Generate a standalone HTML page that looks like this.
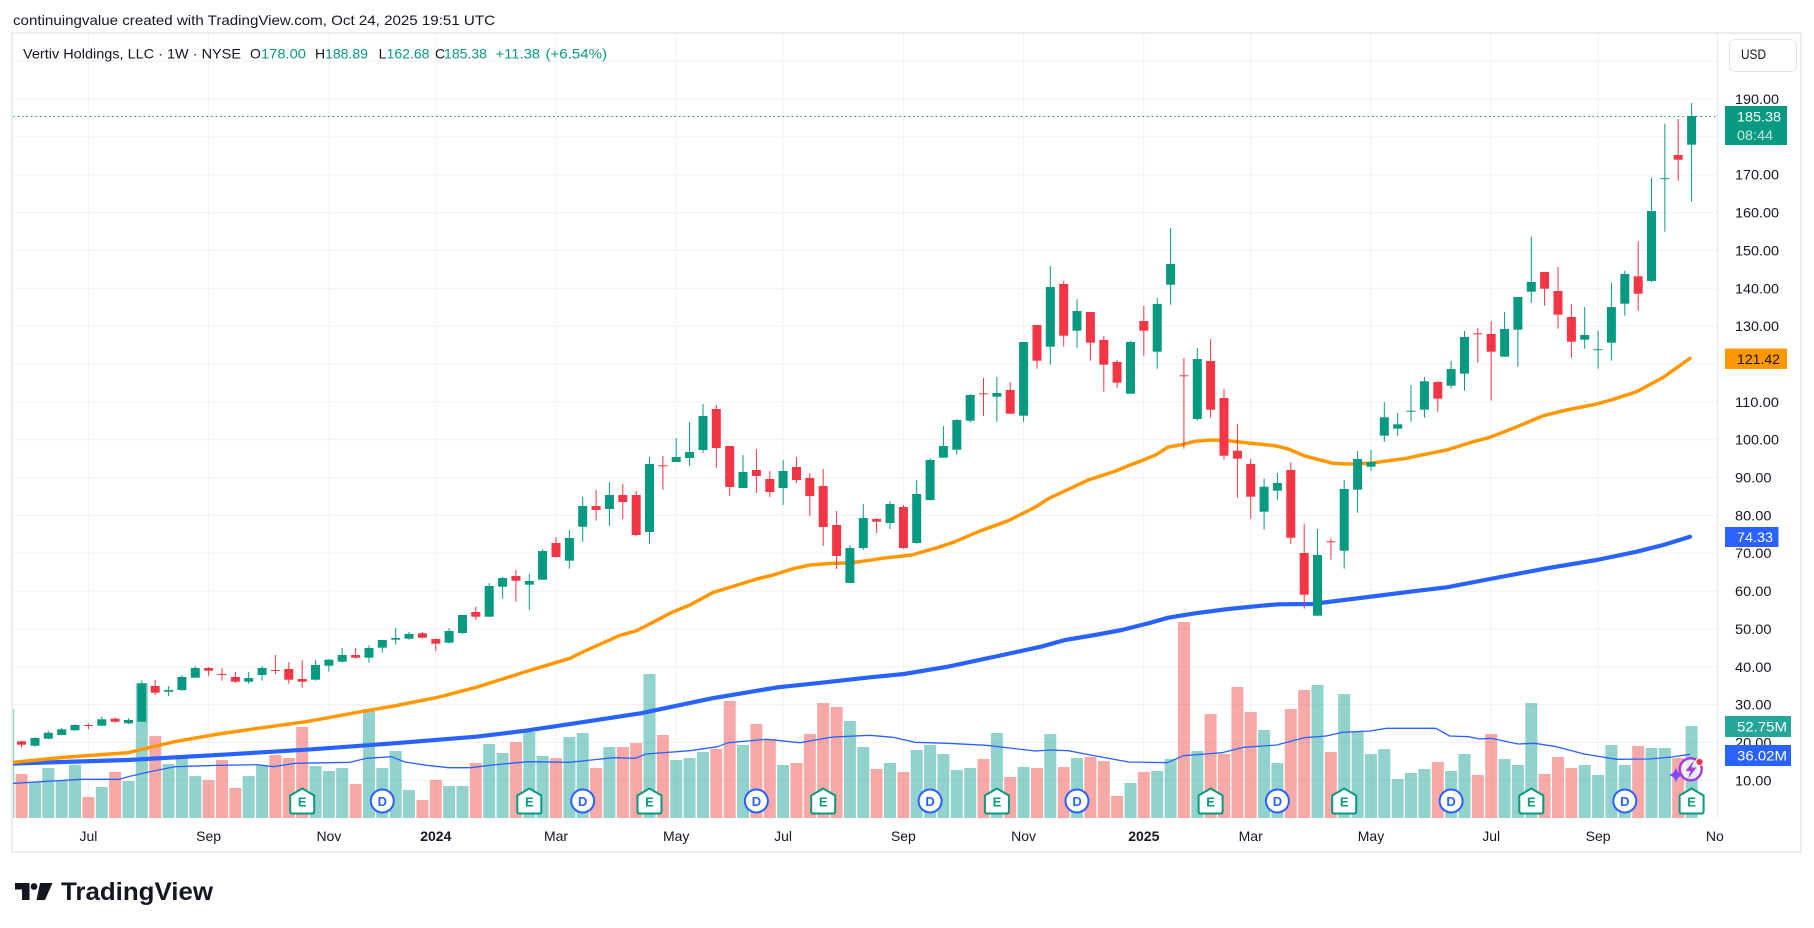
<!DOCTYPE html>
<html><head><meta charset="utf-8">
<style>
html,body{margin:0;padding:0;background:#fff}
svg{display:block}
text{font-family:"Liberation Sans",Arial,sans-serif}
.g line{stroke:#089981;stroke-width:1}
.g rect{fill:#089981}
.r line{stroke:#f23645;stroke-width:1}
.r rect{fill:#f23645}
.vg{fill:#26a69a;fill-opacity:.5}
.vr{fill:#ef5350;fill-opacity:.5}
.grid line{stroke:#f0f1f3;stroke-width:1}
.pl{font-size:14px;fill:#131722}
.xl{font-size:14px;fill:#131722;text-anchor:middle}
</style></head>
<body>
<svg width="1814" height="928" viewBox="0 0 1814 928" xmlns="http://www.w3.org/2000/svg">
<defs>
<clipPath id="plot"><rect x="13" y="34" width="1704.5" height="784"/></clipPath>
<clipPath id="xax"><rect x="13" y="819" width="1711" height="32"/></clipPath>
</defs>
<rect width="1814" height="928" fill="#fff"/>

<!-- header -->
<text x="13" y="25" font-size="14" fill="#131722" textLength="482" lengthAdjust="spacingAndGlyphs">continuingvalue created with TradingView.com, Oct 24, 2025 19:51 UTC</text>

<!-- frame -->
<rect x="12" y="33" width="1789" height="819" fill="none" stroke="#ececec" stroke-width="2"/>

<!-- grid -->
<g class="grid">
<line x1="13" x2="1717" y1="61.2" y2="61.2"/>
<line x1="13" x2="1717" y1="99" y2="99"/>
<line x1="13" x2="1717" y1="136.9" y2="136.9"/>
<line x1="13" x2="1717" y1="174.7" y2="174.7"/>
<line x1="13" x2="1717" y1="212.6" y2="212.6"/>
<line x1="13" x2="1717" y1="250.4" y2="250.4"/>
<line x1="13" x2="1717" y1="288.3" y2="288.3"/>
<line x1="13" x2="1717" y1="326.1" y2="326.1"/>
<line x1="13" x2="1717" y1="364" y2="364"/>
<line x1="13" x2="1717" y1="401.8" y2="401.8"/>
<line x1="13" x2="1717" y1="439.7" y2="439.7"/>
<line x1="13" x2="1717" y1="477.5" y2="477.5"/>
<line x1="13" x2="1717" y1="515.4" y2="515.4"/>
<line x1="13" x2="1717" y1="553.2" y2="553.2"/>
<line x1="13" x2="1717" y1="591.1" y2="591.1"/>
<line x1="13" x2="1717" y1="628.9" y2="628.9"/>
<line x1="13" x2="1717" y1="666.8" y2="666.8"/>
<line x1="13" x2="1717" y1="704.6" y2="704.6"/>
<line x1="13" x2="1717" y1="742.5" y2="742.5"/>
<line x1="13" x2="1717" y1="780.3" y2="780.3"/>
<line x1="88.4" x2="88.4" y1="34" y2="818"/>
<line x1="208.6" x2="208.6" y1="34" y2="818"/>
<line x1="328.9" x2="328.9" y1="34" y2="818"/>
<line x1="435.8" x2="435.8" y1="34" y2="818"/>
<line x1="556" x2="556" y1="34" y2="818"/>
<line x1="676.2" x2="676.2" y1="34" y2="818"/>
<line x1="783.1" x2="783.1" y1="34" y2="818"/>
<line x1="903.4" x2="903.4" y1="34" y2="818"/>
<line x1="1023.6" x2="1023.6" y1="34" y2="818"/>
<line x1="1143.8" x2="1143.8" y1="34" y2="818"/>
<line x1="1250.7" x2="1250.7" y1="34" y2="818"/>
<line x1="1371" x2="1371" y1="34" y2="818"/>
<line x1="1491.2" x2="1491.2" y1="34" y2="818"/>
<line x1="1598.1" x2="1598.1" y1="34" y2="818"/>
</g>
<line x1="1717.5" x2="1717.5" y1="34" y2="818" stroke="#e6e8ec" stroke-width="1"/>

<g clip-path="url(#plot)">
<!-- volume -->
<g>
<rect class="vg" x="2.2" y="709" width="12" height="109"/>
<rect class="vr" x="15.6" y="774" width="12" height="44"/>
<rect class="vg" x="29" y="781.7" width="12" height="36.3"/>
<rect class="vg" x="42.3" y="768" width="12" height="50"/>
<rect class="vg" x="55.7" y="781" width="12" height="37"/>
<rect class="vg" x="69" y="764.7" width="12" height="53.3"/>
<rect class="vr" x="82.4" y="797" width="12" height="21"/>
<rect class="vg" x="95.8" y="787" width="12" height="31"/>
<rect class="vr" x="109.1" y="772" width="12" height="46"/>
<rect class="vg" x="122.5" y="781" width="12" height="37"/>
<rect class="vg" x="135.8" y="683.3" width="12" height="134.7"/>
<rect class="vr" x="149.2" y="736" width="12" height="82"/>
<rect class="vg" x="162.6" y="764" width="12" height="54"/>
<rect class="vg" x="175.9" y="755.3" width="12" height="62.7"/>
<rect class="vg" x="189.3" y="776" width="12" height="42"/>
<rect class="vr" x="202.6" y="780" width="12" height="38"/>
<rect class="vr" x="216" y="760" width="12" height="58"/>
<rect class="vr" x="229.4" y="788" width="12" height="30"/>
<rect class="vg" x="242.7" y="776" width="12" height="42"/>
<rect class="vg" x="256.1" y="765.7" width="12" height="52.3"/>
<rect class="vr" x="269.4" y="755" width="12" height="63"/>
<rect class="vr" x="282.8" y="758" width="12" height="60"/>
<rect class="vr" x="296.2" y="727" width="12" height="91"/>
<rect class="vg" x="309.5" y="766" width="12" height="52"/>
<rect class="vg" x="322.9" y="771" width="12" height="47"/>
<rect class="vg" x="336.2" y="768" width="12" height="50"/>
<rect class="vr" x="349.6" y="784" width="12" height="34"/>
<rect class="vg" x="363" y="709" width="12" height="109"/>
<rect class="vg" x="376.3" y="768" width="12" height="50"/>
<rect class="vg" x="389.7" y="751" width="12" height="67"/>
<rect class="vg" x="403" y="790" width="12" height="28"/>
<rect class="vr" x="416.4" y="800" width="12" height="18"/>
<rect class="vr" x="429.8" y="780" width="12" height="38"/>
<rect class="vg" x="443.1" y="786" width="12" height="32"/>
<rect class="vg" x="456.5" y="786" width="12" height="32"/>
<rect class="vr" x="469.8" y="763" width="12" height="55"/>
<rect class="vg" x="483.2" y="744" width="12" height="74"/>
<rect class="vg" x="496.6" y="753" width="12" height="65"/>
<rect class="vr" x="509.9" y="742" width="12" height="76"/>
<rect class="vg" x="523.3" y="732" width="12" height="86"/>
<rect class="vg" x="536.6" y="756" width="12" height="62"/>
<rect class="vr" x="550" y="758" width="12" height="60"/>
<rect class="vg" x="563.4" y="737" width="12" height="81"/>
<rect class="vg" x="576.7" y="733" width="12" height="85"/>
<rect class="vr" x="590.1" y="768" width="12" height="50"/>
<rect class="vg" x="603.4" y="747" width="12" height="71"/>
<rect class="vr" x="616.8" y="747" width="12" height="71"/>
<rect class="vr" x="630.2" y="743" width="12" height="75"/>
<rect class="vg" x="643.5" y="674" width="12" height="144"/>
<rect class="vr" x="656.9" y="735" width="12" height="83"/>
<rect class="vg" x="670.2" y="760" width="12" height="58"/>
<rect class="vg" x="683.6" y="758" width="12" height="60"/>
<rect class="vg" x="697" y="752" width="12" height="66"/>
<rect class="vr" x="710.3" y="749" width="12" height="69"/>
<rect class="vr" x="723.7" y="701" width="12" height="117"/>
<rect class="vg" x="737" y="745" width="12" height="73"/>
<rect class="vr" x="750.4" y="724" width="12" height="94"/>
<rect class="vr" x="763.8" y="739" width="12" height="79"/>
<rect class="vg" x="777.1" y="765" width="12" height="53"/>
<rect class="vr" x="790.5" y="763" width="12" height="55"/>
<rect class="vr" x="803.8" y="734" width="12" height="84"/>
<rect class="vr" x="817.2" y="703" width="12" height="115"/>
<rect class="vr" x="830.6" y="707" width="12" height="111"/>
<rect class="vg" x="843.9" y="721" width="12" height="97"/>
<rect class="vg" x="857.3" y="747" width="12" height="71"/>
<rect class="vr" x="870.6" y="769" width="12" height="49"/>
<rect class="vg" x="884" y="763" width="12" height="55"/>
<rect class="vr" x="897.4" y="772" width="12" height="46"/>
<rect class="vg" x="910.7" y="750" width="12" height="68"/>
<rect class="vg" x="924.1" y="745" width="12" height="73"/>
<rect class="vg" x="937.4" y="754" width="12" height="64"/>
<rect class="vg" x="950.8" y="770" width="12" height="48"/>
<rect class="vg" x="964.2" y="768" width="12" height="50"/>
<rect class="vr" x="977.5" y="759" width="12" height="59"/>
<rect class="vg" x="990.9" y="733" width="12" height="85"/>
<rect class="vr" x="1004.2" y="777" width="12" height="41"/>
<rect class="vg" x="1017.6" y="767" width="12" height="51"/>
<rect class="vr" x="1031" y="768" width="12" height="50"/>
<rect class="vg" x="1044.3" y="734" width="12" height="84"/>
<rect class="vr" x="1057.7" y="767" width="12" height="51"/>
<rect class="vg" x="1071" y="758" width="12" height="60"/>
<rect class="vr" x="1084.4" y="757" width="12" height="61"/>
<rect class="vr" x="1097.8" y="761" width="12" height="57"/>
<rect class="vr" x="1111.1" y="796" width="12" height="22"/>
<rect class="vg" x="1124.5" y="783" width="12" height="35"/>
<rect class="vr" x="1137.8" y="772" width="12" height="46"/>
<rect class="vg" x="1151.2" y="771" width="12" height="47"/>
<rect class="vg" x="1164.6" y="759" width="12" height="59"/>
<rect class="vr" x="1177.9" y="622" width="12" height="196"/>
<rect class="vg" x="1191.3" y="751" width="12" height="67"/>
<rect class="vr" x="1204.6" y="714" width="12" height="104"/>
<rect class="vr" x="1218" y="754" width="12" height="64"/>
<rect class="vr" x="1231.4" y="687" width="12" height="131"/>
<rect class="vr" x="1244.7" y="712" width="12" height="106"/>
<rect class="vg" x="1258.1" y="730" width="12" height="88"/>
<rect class="vg" x="1271.4" y="763" width="12" height="55"/>
<rect class="vr" x="1284.8" y="709" width="12" height="109"/>
<rect class="vr" x="1298.2" y="690" width="12" height="128"/>
<rect class="vg" x="1311.5" y="685" width="12" height="133"/>
<rect class="vr" x="1324.9" y="752" width="12" height="66"/>
<rect class="vg" x="1338.2" y="694" width="12" height="124"/>
<rect class="vg" x="1351.6" y="732" width="12" height="86"/>
<rect class="vg" x="1365" y="754" width="12" height="64"/>
<rect class="vg" x="1378.3" y="749" width="12" height="69"/>
<rect class="vg" x="1391.7" y="779" width="12" height="39"/>
<rect class="vg" x="1405" y="773" width="12" height="45"/>
<rect class="vg" x="1418.4" y="769" width="12" height="49"/>
<rect class="vr" x="1431.8" y="762" width="12" height="56"/>
<rect class="vg" x="1445.1" y="771" width="12" height="47"/>
<rect class="vg" x="1458.5" y="754" width="12" height="64"/>
<rect class="vr" x="1471.8" y="775" width="12" height="43"/>
<rect class="vr" x="1485.2" y="734" width="12" height="84"/>
<rect class="vg" x="1498.6" y="759" width="12" height="59"/>
<rect class="vg" x="1511.9" y="765" width="12" height="53"/>
<rect class="vg" x="1525.3" y="703" width="12" height="115"/>
<rect class="vr" x="1538.6" y="774" width="12" height="44"/>
<rect class="vr" x="1552" y="757" width="12" height="61"/>
<rect class="vr" x="1565.4" y="768" width="12" height="50"/>
<rect class="vg" x="1578.7" y="765" width="12" height="53"/>
<rect class="vg" x="1592.1" y="775" width="12" height="43"/>
<rect class="vg" x="1605.4" y="745" width="12" height="73"/>
<rect class="vg" x="1618.8" y="765" width="12" height="53"/>
<rect class="vr" x="1632.2" y="746" width="12" height="72"/>
<rect class="vg" x="1645.5" y="748" width="12" height="70"/>
<rect class="vg" x="1658.9" y="748" width="12" height="70"/>
<rect class="vr" x="1672.2" y="758" width="12" height="60"/>
<rect class="vg" x="1685.6" y="726" width="12" height="92"/>
</g>

<!-- volume MA -->
<polyline fill="none" stroke="#2962ff" stroke-width="1.3" stroke-linejoin="round" points="12,783.5 14.4,783.3 81.3,779.3 119.7,779.3 127.9,776.7 149.9,771.7 174.5,766.7 218.4,765.3 256.8,764.7 273.3,766.7 295.2,763.3 350,762.3 366.5,758.3 391.2,756.7 404.9,762 426.8,765.3 448.8,767.7 470.7,767.7 492.6,765 528.3,761.7 569.4,762.3 591.4,760 613.3,757.7 635.2,758.3 646.2,754 690.1,750.7 717.5,746.7 728.5,742.7 766.9,739.3 799.8,742.7 832.7,737 870,735.3 892.9,737.3 914.8,742.3 947.8,743.3 986.1,745.3 1035.5,751 1052,750 1068.4,750.7 1090.4,755 1128.7,762 1167.1,762.7 1183.6,755.7 1205.5,754 1222,752.7 1243.9,747.3 1276.8,745 1304.2,737.7 1326.2,736 1342.6,732.3 1370.1,731 1386.5,728.3 1435.9,728.3 1449.6,736 1468.8,736.7 1479.8,739 1490.7,738.3 1518.1,744 1534.6,743.3 1556.5,746.7 1584,754 1616.9,759.3 1649.8,759 1671.7,757 1690,754.3"/>

<!-- blue MA -->
<polyline fill="none" stroke="#2962ff" stroke-width="4.2" stroke-linejoin="round" stroke-linecap="round" points="12,763.5 127.9,760 229.4,754.3 311.7,749.3 393.9,743.3 476.2,736.7 525.6,730.7 574.9,723.3 640.7,713.3 712,698.3 777.8,687.3 821.7,682.7 870,677.3 903.9,674 947.8,666.7 1002.6,655 1041,646.7 1065,640 1095,635 1121.7,630 1148.3,623.3 1168.3,617.7 1195,613.3 1228.3,609 1261.7,605.7 1278.3,604.3 1311.7,604 1340,600.5 1410,591.7 1446.7,587.3 1490,579 1546.7,568.3 1596.7,560 1636.7,551.7 1663.3,545 1690,536.7"/>

<!-- orange MA -->
<polyline fill="none" stroke="#ff9800" stroke-width="3.5" stroke-linejoin="round" stroke-linecap="round" points="12,762.5 64.8,757.3 127.9,752.7 174.5,741.7 218.4,734 262.3,727.7 306.2,721.7 361,711.7 393.9,706 437.8,697.3 476.2,687.3 533.3,669.3 570,658.3 583.3,651.7 620,635.3 636.7,630.7 673.3,611.7 690,605 713.3,592.3 730,587.3 756.7,579 773.3,575 793.3,568.7 810,565 833.3,563.3 850,563 866.7,560.7 886.7,557.7 911.7,555 938.3,547.3 955,541.7 978.3,531.7 1008.3,520.7 1035,507.3 1048.3,498.7 1071.7,487.7 1088.3,480 1115,471.3 1128.3,465.7 1141.7,460.7 1155,455.3 1168.3,447 1181.7,444.7 1195,441.3 1211.7,440 1228.3,440.7 1248.3,443 1275,445.7 1288.3,449 1305,456 1320,460 1333.3,463.3 1346.7,464 1370,463.3 1386.7,461 1406.7,458.3 1420,455.3 1446.7,450 1473.3,441.7 1490,437.3 1513.3,428.3 1543.3,415.7 1566.7,410 1596.7,404 1613.3,399.3 1636.7,391.7 1663.3,377.3 1690,358.3"/>

<!-- last price dotted line -->
<line x1="13" x2="1717" y1="116.5" y2="116.5" stroke="#089981" stroke-width="1" stroke-dasharray="1.5 3"/>

<!-- candles -->
<g class="r" transform="translate(21.6)"><line y1="740.7" y2="747.7"/><rect x="-4.5" y="741.3" width="9" height="3.4"/></g>
<g class="g" transform="translate(35)"><line y1="737.3" y2="746.7"/><rect x="-4.5" y="738" width="9" height="7.7"/></g>
<g class="g" transform="translate(48.3)"><line y1="730.7" y2="739.3"/><rect x="-4.5" y="732.7" width="9" height="6"/></g>
<g class="g" transform="translate(61.7)"><line y1="728" y2="735.3"/><rect x="-4.5" y="729.3" width="9" height="5.7"/></g>
<g class="g" transform="translate(75)"><line y1="724" y2="730.7"/><rect x="-4.5" y="725" width="9" height="5.3"/></g>
<g class="r" transform="translate(88.4)"><line y1="723.3" y2="729.3"/><rect x="-4.5" y="725" width="9" height="1"/></g>
<g class="g" transform="translate(101.8)"><line y1="716.3" y2="726"/><rect x="-4.5" y="719.3" width="9" height="6.4"/></g>
<g class="r" transform="translate(115.1)"><line y1="717.3" y2="722.7"/><rect x="-4.5" y="718.7" width="9" height="3"/></g>
<g class="g" transform="translate(128.5)"><line y1="718.3" y2="724"/><rect x="-4.5" y="720" width="9" height="3.3"/></g>
<g class="g" transform="translate(141.8)"><line y1="680.3" y2="722"/><rect x="-4.5" y="683.3" width="9" height="38.4"/></g>
<g class="r" transform="translate(155.2)"><line y1="680" y2="695"/><rect x="-4.5" y="686" width="9" height="6.7"/></g>
<g class="g" transform="translate(168.6)"><line y1="686" y2="696"/><rect x="-4.5" y="690" width="9" height="1.7"/></g>
<g class="g" transform="translate(181.9)"><line y1="675" y2="691"/><rect x="-4.5" y="677" width="9" height="13"/></g>
<g class="g" transform="translate(195.3)"><line y1="666" y2="677.7"/><rect x="-4.5" y="668" width="9" height="9.7"/></g>
<g class="r" transform="translate(208.6)"><line y1="667" y2="675.7"/><rect x="-4.5" y="668" width="9" height="2.7"/></g>
<g class="r" transform="translate(222)"><line y1="668" y2="680.7"/><rect x="-4.5" y="674" width="9" height="1"/></g>
<g class="r" transform="translate(235.4)"><line y1="672" y2="683"/><rect x="-4.5" y="677" width="9" height="4.7"/></g>
<g class="g" transform="translate(248.7)"><line y1="672" y2="683.7"/><rect x="-4.5" y="678" width="9" height="3.7"/></g>
<g class="g" transform="translate(262.1)"><line y1="666" y2="680.7"/><rect x="-4.5" y="668" width="9" height="7"/></g>
<g class="r" transform="translate(275.4)"><line y1="655" y2="674"/><rect x="-4.5" y="670" width="9" height="1"/></g>
<g class="r" transform="translate(288.8)"><line y1="662" y2="683.7"/><rect x="-4.5" y="669" width="9" height="10.7"/></g>
<g class="r" transform="translate(302.2)"><line y1="660" y2="687.7"/><rect x="-4.5" y="679" width="9" height="2.7"/></g>
<g class="g" transform="translate(315.5)"><line y1="660" y2="680.7"/><rect x="-4.5" y="665" width="9" height="14.7"/></g>
<g class="g" transform="translate(328.9)"><line y1="659" y2="671.7"/><rect x="-4.5" y="659.7" width="9" height="6"/></g>
<g class="g" transform="translate(342.2)"><line y1="648" y2="662.7"/><rect x="-4.5" y="655" width="9" height="6.7"/></g>
<g class="r" transform="translate(355.6)"><line y1="648" y2="658.7"/><rect x="-4.5" y="655" width="9" height="2.7"/></g>
<g class="g" transform="translate(369)"><line y1="645.3" y2="662.7"/><rect x="-4.5" y="648" width="9" height="9.7"/></g>
<g class="g" transform="translate(382.3)"><line y1="640" y2="652.7"/><rect x="-4.5" y="640" width="9" height="7.7"/></g>
<g class="g" transform="translate(395.7)"><line y1="628" y2="644.7"/><rect x="-4.5" y="638" width="9" height="1.7"/></g>
<g class="g" transform="translate(409)"><line y1="632" y2="639.7"/><rect x="-4.5" y="634" width="9" height="4.7"/></g>
<g class="r" transform="translate(422.4)"><line y1="632" y2="638.3"/><rect x="-4.5" y="633.3" width="9" height="4.4"/></g>
<g class="r" transform="translate(435.8)"><line y1="638.3" y2="651"/><rect x="-4.5" y="639" width="9" height="4.7"/></g>
<g class="g" transform="translate(449.1)"><line y1="628" y2="643.3"/><rect x="-4.5" y="631" width="9" height="11.7"/></g>
<g class="g" transform="translate(462.5)"><line y1="615" y2="634"/><rect x="-4.5" y="615" width="9" height="18"/></g>
<g class="r" transform="translate(475.8)"><line y1="606.7" y2="620"/><rect x="-4.5" y="612" width="9" height="4.7"/></g>
<g class="g" transform="translate(489.2)"><line y1="583" y2="616.7"/><rect x="-4.5" y="586" width="9" height="30.7"/></g>
<g class="g" transform="translate(502.6)"><line y1="577" y2="598.7"/><rect x="-4.5" y="578" width="9" height="8.7"/></g>
<g class="r" transform="translate(515.9)"><line y1="570" y2="601.7"/><rect x="-4.5" y="576" width="9" height="4.7"/></g>
<g class="g" transform="translate(529.3)"><line y1="574" y2="609.7"/><rect x="-4.5" y="581" width="9" height="3.7"/></g>
<g class="g" transform="translate(542.6)"><line y1="549" y2="579.7"/><rect x="-4.5" y="551" width="9" height="28.7"/></g>
<g class="r" transform="translate(556)"><line y1="537" y2="558"/><rect x="-4.5" y="543" width="9" height="14"/></g>
<g class="g" transform="translate(569.4)"><line y1="530" y2="568.7"/><rect x="-4.5" y="538" width="9" height="22.7"/></g>
<g class="g" transform="translate(582.7)"><line y1="496.7" y2="542"/><rect x="-4.5" y="506" width="9" height="20.7"/></g>
<g class="r" transform="translate(596.1)"><line y1="490" y2="520.7"/><rect x="-4.5" y="506" width="9" height="4"/></g>
<g class="g" transform="translate(609.4)"><line y1="482" y2="526"/><rect x="-4.5" y="495" width="9" height="14"/></g>
<g class="r" transform="translate(622.8)"><line y1="484" y2="519"/><rect x="-4.5" y="495" width="9" height="7"/></g>
<g class="r" transform="translate(636.2)"><line y1="491" y2="536"/><rect x="-4.5" y="495" width="9" height="40"/></g>
<g class="g" transform="translate(649.5)"><line y1="457" y2="543.7"/><rect x="-4.5" y="464" width="9" height="68"/></g>
<g class="r" transform="translate(662.9)"><line y1="456" y2="490"/><rect x="-4.5" y="465.3" width="9" height="1"/></g>
<g class="g" transform="translate(676.2)"><line y1="438" y2="462"/><rect x="-4.5" y="457" width="9" height="5"/></g>
<g class="g" transform="translate(689.6)"><line y1="422" y2="466"/><rect x="-4.5" y="452" width="9" height="6"/></g>
<g class="g" transform="translate(703)"><line y1="404" y2="453"/><rect x="-4.5" y="416" width="9" height="34"/></g>
<g class="r" transform="translate(716.3)"><line y1="405" y2="468"/><rect x="-4.5" y="409" width="9" height="39"/></g>
<g class="r" transform="translate(729.7)"><line y1="446" y2="496"/><rect x="-4.5" y="446" width="9" height="41"/></g>
<g class="g" transform="translate(743)"><line y1="455" y2="488"/><rect x="-4.5" y="472" width="9" height="16"/></g>
<g class="r" transform="translate(756.4)"><line y1="449" y2="493"/><rect x="-4.5" y="470" width="9" height="6"/></g>
<g class="r" transform="translate(769.8)"><line y1="471" y2="497"/><rect x="-4.5" y="479" width="9" height="13"/></g>
<g class="g" transform="translate(783.1)"><line y1="460" y2="505"/><rect x="-4.5" y="471" width="9" height="17"/></g>
<g class="r" transform="translate(796.5)"><line y1="457" y2="483"/><rect x="-4.5" y="467" width="9" height="13"/></g>
<g class="r" transform="translate(809.8)"><line y1="473" y2="516"/><rect x="-4.5" y="478" width="9" height="18"/></g>
<g class="r" transform="translate(823.2)"><line y1="469" y2="546"/><rect x="-4.5" y="486" width="9" height="41"/></g>
<g class="r" transform="translate(836.6)"><line y1="511" y2="569"/><rect x="-4.5" y="525" width="9" height="31"/></g>
<g class="g" transform="translate(849.9)"><line y1="545" y2="583"/><rect x="-4.5" y="548" width="9" height="35"/></g>
<g class="g" transform="translate(863.3)"><line y1="504" y2="550"/><rect x="-4.5" y="518" width="9" height="30"/></g>
<g class="r" transform="translate(876.6)"><line y1="518" y2="533"/><rect x="-4.5" y="519" width="9" height="2.7"/></g>
<g class="g" transform="translate(890)"><line y1="501" y2="529"/><rect x="-4.5" y="504" width="9" height="19"/></g>
<g class="r" transform="translate(903.4)"><line y1="505" y2="549"/><rect x="-4.5" y="507" width="9" height="41"/></g>
<g class="g" transform="translate(916.7)"><line y1="480" y2="543.7"/><rect x="-4.5" y="494" width="9" height="49"/></g>
<g class="g" transform="translate(930.1)"><line y1="458.3" y2="500.7"/><rect x="-4.5" y="460" width="9" height="40"/></g>
<g class="g" transform="translate(943.4)"><line y1="426" y2="457.7"/><rect x="-4.5" y="446" width="9" height="11.7"/></g>
<g class="g" transform="translate(956.8)"><line y1="419" y2="454.7"/><rect x="-4.5" y="420" width="9" height="29.7"/></g>
<g class="g" transform="translate(970.2)"><line y1="394" y2="422.7"/><rect x="-4.5" y="395" width="9" height="25.7"/></g>
<g class="r" transform="translate(983.5)"><line y1="378" y2="415.7"/><rect x="-4.5" y="393.3" width="9" height="1"/></g>
<g class="g" transform="translate(996.9)"><line y1="377" y2="421.7"/><rect x="-4.5" y="393" width="9" height="3.7"/></g>
<g class="r" transform="translate(1010.2)"><line y1="382" y2="413.7"/><rect x="-4.5" y="390" width="9" height="23.7"/></g>
<g class="g" transform="translate(1023.6)"><line y1="342" y2="421.7"/><rect x="-4.5" y="342" width="9" height="73.7"/></g>
<g class="r" transform="translate(1037)"><line y1="325" y2="368.7"/><rect x="-4.5" y="325" width="9" height="35.7"/></g>
<g class="g" transform="translate(1050.3)"><line y1="266" y2="364.7"/><rect x="-4.5" y="287" width="9" height="59.7"/></g>
<g class="r" transform="translate(1063.7)"><line y1="281" y2="346.7"/><rect x="-4.5" y="284" width="9" height="51.7"/></g>
<g class="g" transform="translate(1077)"><line y1="299" y2="347.7"/><rect x="-4.5" y="311" width="9" height="19.7"/></g>
<g class="r" transform="translate(1090.4)"><line y1="312" y2="360.7"/><rect x="-4.5" y="312" width="9" height="30.7"/></g>
<g class="r" transform="translate(1103.8)"><line y1="336" y2="391.7"/><rect x="-4.5" y="340" width="9" height="24.7"/></g>
<g class="r" transform="translate(1117.1)"><line y1="360" y2="387.7"/><rect x="-4.5" y="362" width="9" height="20.7"/></g>
<g class="g" transform="translate(1130.5)"><line y1="341" y2="393.7"/><rect x="-4.5" y="342" width="9" height="51.7"/></g>
<g class="r" transform="translate(1143.8)"><line y1="306" y2="355.7"/><rect x="-4.5" y="321" width="9" height="9.7"/></g>
<g class="g" transform="translate(1157.2)"><line y1="298" y2="368.7"/><rect x="-4.5" y="304" width="9" height="47.7"/></g>
<g class="g" transform="translate(1170.6)"><line y1="228" y2="304.7"/><rect x="-4.5" y="264" width="9" height="20.7"/></g>
<g class="r" transform="translate(1183.9)"><line y1="358" y2="448.7"/><rect x="-4.5" y="375.3" width="9" height="1"/></g>
<g class="g" transform="translate(1197.3)"><line y1="348" y2="420.7"/><rect x="-4.5" y="359" width="9" height="60"/></g>
<g class="r" transform="translate(1210.6)"><line y1="339" y2="417.7"/><rect x="-4.5" y="361" width="9" height="48.7"/></g>
<g class="r" transform="translate(1224)"><line y1="389" y2="459.7"/><rect x="-4.5" y="398" width="9" height="57.7"/></g>
<g class="r" transform="translate(1237.4)"><line y1="424" y2="497.7"/><rect x="-4.5" y="450.7" width="9" height="8"/></g>
<g class="r" transform="translate(1250.7)"><line y1="459" y2="518.7"/><rect x="-4.5" y="464" width="9" height="32.7"/></g>
<g class="g" transform="translate(1264.1)"><line y1="478.7" y2="529.7"/><rect x="-4.5" y="486.7" width="9" height="25"/></g>
<g class="g" transform="translate(1277.4)"><line y1="473" y2="499.7"/><rect x="-4.5" y="483" width="9" height="7.7"/></g>
<g class="r" transform="translate(1290.8)"><line y1="462" y2="543.7"/><rect x="-4.5" y="470" width="9" height="67.7"/></g>
<g class="r" transform="translate(1304.2)"><line y1="523.7" y2="608.7"/><rect x="-4.5" y="553" width="9" height="41.7"/></g>
<g class="g" transform="translate(1317.5)"><line y1="529" y2="615.7"/><rect x="-4.5" y="555" width="9" height="60.7"/></g>
<g class="r" transform="translate(1330.9)"><line y1="538.3" y2="559.7"/><rect x="-4.5" y="541.3" width="9" height="1"/></g>
<g class="g" transform="translate(1344.2)"><line y1="480" y2="568.7"/><rect x="-4.5" y="489" width="9" height="61.7"/></g>
<g class="g" transform="translate(1357.6)"><line y1="451" y2="512.7"/><rect x="-4.5" y="459" width="9" height="30.7"/></g>
<g class="g" transform="translate(1371)"><line y1="450" y2="470.7"/><rect x="-4.5" y="462" width="9" height="4.7"/></g>
<g class="g" transform="translate(1384.3)"><line y1="402" y2="441.7"/><rect x="-4.5" y="417.3" width="9" height="18.4"/></g>
<g class="g" transform="translate(1397.7)"><line y1="413" y2="435.7"/><rect x="-4.5" y="424.3" width="9" height="4.4"/></g>
<g class="g" transform="translate(1411)"><line y1="385" y2="421.7"/><rect x="-4.5" y="410.7" width="9" height="1"/></g>
<g class="g" transform="translate(1424.4)"><line y1="377" y2="417.7"/><rect x="-4.5" y="381.3" width="9" height="28.4"/></g>
<g class="r" transform="translate(1437.8)"><line y1="381" y2="411.7"/><rect x="-4.5" y="382" width="9" height="16.7"/></g>
<g class="g" transform="translate(1451.1)"><line y1="361" y2="388.7"/><rect x="-4.5" y="369" width="9" height="16.7"/></g>
<g class="g" transform="translate(1464.5)"><line y1="331" y2="390.7"/><rect x="-4.5" y="337" width="9" height="36.7"/></g>
<g class="r" transform="translate(1477.8)"><line y1="328" y2="362.7"/><rect x="-4.5" y="333.3" width="9" height="1"/></g>
<g class="r" transform="translate(1491.2)"><line y1="321" y2="400.7"/><rect x="-4.5" y="334" width="9" height="17.7"/></g>
<g class="g" transform="translate(1504.6)"><line y1="312" y2="356.7"/><rect x="-4.5" y="329" width="9" height="27.7"/></g>
<g class="g" transform="translate(1517.9)"><line y1="297" y2="366.7"/><rect x="-4.5" y="297" width="9" height="32.7"/></g>
<g class="g" transform="translate(1531.3)"><line y1="236.7" y2="302.7"/><rect x="-4.5" y="282" width="9" height="9.7"/></g>
<g class="r" transform="translate(1544.6)"><line y1="272" y2="305.7"/><rect x="-4.5" y="272" width="9" height="16.7"/></g>
<g class="r" transform="translate(1558)"><line y1="267" y2="328.7"/><rect x="-4.5" y="291" width="9" height="23.7"/></g>
<g class="r" transform="translate(1571.4)"><line y1="304" y2="357.7"/><rect x="-4.5" y="317" width="9" height="24.7"/></g>
<g class="g" transform="translate(1584.7)"><line y1="307" y2="348.7"/><rect x="-4.5" y="335" width="9" height="4.7"/></g>
<g class="g" transform="translate(1598.1)"><line y1="330.7" y2="368.7"/><rect x="-4.5" y="349.2" width="9" height="1"/></g>
<g class="g" transform="translate(1611.4)"><line y1="282.7" y2="360.7"/><rect x="-4.5" y="307" width="9" height="35.7"/></g>
<g class="g" transform="translate(1624.8)"><line y1="270.7" y2="315.7"/><rect x="-4.5" y="274" width="9" height="29.7"/></g>
<g class="r" transform="translate(1638.2)"><line y1="241" y2="310.7"/><rect x="-4.5" y="276.3" width="9" height="17.4"/></g>
<g class="g" transform="translate(1651.5)"><line y1="178" y2="282.3"/><rect x="-4.5" y="211" width="9" height="70"/></g>
<g class="g" transform="translate(1664.9)"><line y1="123.7" y2="231.7"/><rect x="-4.5" y="178.2" width="9" height="1"/></g>
<g class="r" transform="translate(1678.2)"><line y1="119" y2="180.7"/><rect x="-4.5" y="155" width="9" height="4.7"/></g>
<g class="g" transform="translate(1691.6)"><line y1="103" y2="201.7"/><rect x="-4.5" y="116" width="9" height="28.7"/></g>

<!-- E markers -->
<g font-size="13" font-weight="bold" text-anchor="middle">
<g transform="translate(302.2,801)"><path d="M0,-12.5 L12,-5.5 V10.5 Q12,12.5 10,12.5 H-10 Q-12,12.5 -12,10.5 V-5.5 Z" fill="#fff" stroke="#089981" stroke-width="2"/><text y="5.5" fill="#089981">E</text></g>
<g transform="translate(529.3,801)"><path d="M0,-12.5 L12,-5.5 V10.5 Q12,12.5 10,12.5 H-10 Q-12,12.5 -12,10.5 V-5.5 Z" fill="#fff" stroke="#089981" stroke-width="2"/><text y="5.5" fill="#089981">E</text></g>
<g transform="translate(649.5,801)"><path d="M0,-12.5 L12,-5.5 V10.5 Q12,12.5 10,12.5 H-10 Q-12,12.5 -12,10.5 V-5.5 Z" fill="#fff" stroke="#089981" stroke-width="2"/><text y="5.5" fill="#089981">E</text></g>
<g transform="translate(823.2,801)"><path d="M0,-12.5 L12,-5.5 V10.5 Q12,12.5 10,12.5 H-10 Q-12,12.5 -12,10.5 V-5.5 Z" fill="#fff" stroke="#089981" stroke-width="2"/><text y="5.5" fill="#089981">E</text></g>
<g transform="translate(996.9,801)"><path d="M0,-12.5 L12,-5.5 V10.5 Q12,12.5 10,12.5 H-10 Q-12,12.5 -12,10.5 V-5.5 Z" fill="#fff" stroke="#089981" stroke-width="2"/><text y="5.5" fill="#089981">E</text></g>
<g transform="translate(1210.6,801)"><path d="M0,-12.5 L12,-5.5 V10.5 Q12,12.5 10,12.5 H-10 Q-12,12.5 -12,10.5 V-5.5 Z" fill="#fff" stroke="#089981" stroke-width="2"/><text y="5.5" fill="#089981">E</text></g>
<g transform="translate(1344.2,801)"><path d="M0,-12.5 L12,-5.5 V10.5 Q12,12.5 10,12.5 H-10 Q-12,12.5 -12,10.5 V-5.5 Z" fill="#fff" stroke="#089981" stroke-width="2"/><text y="5.5" fill="#089981">E</text></g>
<g transform="translate(1531.3,801)"><path d="M0,-12.5 L12,-5.5 V10.5 Q12,12.5 10,12.5 H-10 Q-12,12.5 -12,10.5 V-5.5 Z" fill="#fff" stroke="#089981" stroke-width="2"/><text y="5.5" fill="#089981">E</text></g>
<g transform="translate(1691.6,801)"><path d="M0,-12.5 L12,-5.5 V10.5 Q12,12.5 10,12.5 H-10 Q-12,12.5 -12,10.5 V-5.5 Z" fill="#fff" stroke="#089981" stroke-width="2"/><text y="5.5" fill="#089981">E</text></g>
<!-- D markers -->
<g transform="translate(382.3,801)"><circle r="11.5" fill="#fff" stroke="#2962ff" stroke-width="2"/><text y="5" fill="#2962ff">D</text></g>
<g transform="translate(582.7,801)"><circle r="11.5" fill="#fff" stroke="#2962ff" stroke-width="2"/><text y="5" fill="#2962ff">D</text></g>
<g transform="translate(756.4,801)"><circle r="11.5" fill="#fff" stroke="#2962ff" stroke-width="2"/><text y="5" fill="#2962ff">D</text></g>
<g transform="translate(930.1,801)"><circle r="11.5" fill="#fff" stroke="#2962ff" stroke-width="2"/><text y="5" fill="#2962ff">D</text></g>
<g transform="translate(1077,801)"><circle r="11.5" fill="#fff" stroke="#2962ff" stroke-width="2"/><text y="5" fill="#2962ff">D</text></g>
<g transform="translate(1277.4,801)"><circle r="11.5" fill="#fff" stroke="#2962ff" stroke-width="2"/><text y="5" fill="#2962ff">D</text></g>
<g transform="translate(1451.1,801)"><circle r="11.5" fill="#fff" stroke="#2962ff" stroke-width="2"/><text y="5" fill="#2962ff">D</text></g>
<g transform="translate(1624.8,801)"><circle r="11.5" fill="#fff" stroke="#2962ff" stroke-width="2"/><text y="5" fill="#2962ff">D</text></g>
</g>

<!-- lightning icon -->
<circle cx="1690.7" cy="769.3" r="11" fill="#ffffff" fill-opacity="0.7" stroke="#a53fd8" stroke-width="2.5"/>
<path d="M1694 760.5 L1685.5 771 H1690.5 L1688 778.5 L1696.5 767.5 H1691.5 Z" fill="#a53fd8"/>
<path d="M1676 767 Q1677 774 1684 775 Q1677 776 1676 783 Q1675 776 1668 775 Q1675 774 1676 767 Z" fill="#7c4dff"/>
<circle cx="1699.5" cy="762" r="3.6" fill="#f23645" stroke="#fff" stroke-width="1"/>
</g>

<!-- legend -->
<g font-size="14">
<text x="23" y="58.5" fill="#131722" textLength="218" lengthAdjust="spacingAndGlyphs">Vertiv Holdings, LLC · 1W · NYSE</text>
<text x="250" y="58.5" fill="#131722">O</text>
<text x="261" y="58.5" fill="#089981" textLength="45" lengthAdjust="spacingAndGlyphs">178.00</text>
<text x="315" y="58.5" fill="#131722">H</text>
<text x="325" y="58.5" fill="#089981" textLength="43" lengthAdjust="spacingAndGlyphs">188.89</text>
<text x="378.6" y="58.5" fill="#131722">L</text>
<text x="386.5" y="58.5" fill="#089981" textLength="43" lengthAdjust="spacingAndGlyphs">162.68</text>
<text x="435" y="58.5" fill="#131722">C</text>
<text x="444" y="58.5" fill="#089981" textLength="43" lengthAdjust="spacingAndGlyphs">185.38</text>
<text x="495.5" y="58.5" fill="#089981" textLength="44.5" lengthAdjust="spacingAndGlyphs">+11.38</text>
<text x="545.5" y="58.5" fill="#089981" textLength="61.5" lengthAdjust="spacingAndGlyphs">(+6.54%)</text>
</g>

<!-- USD -->
<rect x="1729.5" y="39.5" width="67" height="32" rx="6" fill="#fff" stroke="#e0e3eb" stroke-width="1"/>
<text x="1741" y="59" font-size="14" fill="#131722" textLength="25" lengthAdjust="spacingAndGlyphs">USD</text>

<!-- price axis labels -->
<g class="pl">
<text x="1735" y="104" textLength="44" lengthAdjust="spacingAndGlyphs">190.00</text>
<text x="1735" y="179.7" textLength="44" lengthAdjust="spacingAndGlyphs">170.00</text>
<text x="1735" y="217.6" textLength="44" lengthAdjust="spacingAndGlyphs">160.00</text>
<text x="1735" y="255.4" textLength="44" lengthAdjust="spacingAndGlyphs">150.00</text>
<text x="1735" y="293.3" textLength="44" lengthAdjust="spacingAndGlyphs">140.00</text>
<text x="1735" y="331.1" textLength="44" lengthAdjust="spacingAndGlyphs">130.00</text>
<text x="1735" y="406.8" textLength="44" lengthAdjust="spacingAndGlyphs">110.00</text>
<text x="1735" y="444.7" textLength="44" lengthAdjust="spacingAndGlyphs">100.00</text>
<text x="1735" y="482.5" textLength="36.5" lengthAdjust="spacingAndGlyphs">90.00</text>
<text x="1735" y="520.4" textLength="36.5" lengthAdjust="spacingAndGlyphs">80.00</text>
<text x="1735" y="558.2" textLength="36.5" lengthAdjust="spacingAndGlyphs">70.00</text>
<text x="1735" y="596.1" textLength="36.5" lengthAdjust="spacingAndGlyphs">60.00</text>
<text x="1735" y="633.9" textLength="36.5" lengthAdjust="spacingAndGlyphs">50.00</text>
<text x="1735" y="671.8" textLength="36.5" lengthAdjust="spacingAndGlyphs">40.00</text>
<text x="1735" y="709.6" textLength="36.5" lengthAdjust="spacingAndGlyphs">30.00</text>
<text x="1735" y="747.5" textLength="36.5" lengthAdjust="spacingAndGlyphs">20.00</text>
<text x="1735" y="785.3" textLength="36.5" lengthAdjust="spacingAndGlyphs">10.00</text>
</g>

<!-- price boxes -->
<rect x="1725" y="106" width="62" height="39" fill="#089981"/>
<text x="1737" y="121.5" font-size="14" fill="#fff" textLength="44" lengthAdjust="spacingAndGlyphs">185.38</text>
<text x="1737" y="140" font-size="14" fill="#fff" fill-opacity="0.8" textLength="36" lengthAdjust="spacingAndGlyphs">08:44</text>
<rect x="1725" y="348.5" width="62" height="20.5" fill="#ff9800"/>
<text x="1737" y="364" font-size="14" fill="#131722" textLength="43" lengthAdjust="spacingAndGlyphs">121.42</text>
<rect x="1725" y="527" width="53.5" height="20" fill="#2962ff"/>
<text x="1737" y="542" font-size="14" fill="#fff" textLength="36" lengthAdjust="spacingAndGlyphs">74.33</text>
<rect x="1725" y="716" width="66" height="21" fill="#26a69a"/>
<text x="1737" y="731.5" font-size="14" fill="#fff" textLength="50" lengthAdjust="spacingAndGlyphs">52.75M</text>
<rect x="1725" y="745" width="66" height="21" fill="#2962ff"/>
<text x="1737" y="760.5" font-size="14" fill="#fff" textLength="50" lengthAdjust="spacingAndGlyphs">36.02M</text>

<!-- x axis labels -->
<g class="xl" clip-path="url(#xax)">
<text x="88.4" y="841">Jul</text>
<text x="208.6" y="841">Sep</text>
<text x="328.9" y="841">Nov</text>
<text x="435.8" y="841" font-weight="bold">2024</text>
<text x="556" y="841">Mar</text>
<text x="676.2" y="841">May</text>
<text x="783.1" y="841">Jul</text>
<text x="903.4" y="841">Sep</text>
<text x="1023.6" y="841">Nov</text>
<text x="1143.8" y="841" font-weight="bold">2025</text>
<text x="1250.7" y="841">Mar</text>
<text x="1371" y="841">May</text>
<text x="1491.2" y="841">Jul</text>
<text x="1598.1" y="841">Sep</text>
<text x="1718.3" y="841">Nov</text>
</g>

<!-- TradingView logo -->
<g fill="#131722">
<path d="M15 883 H29.5 V900 H22 V889.5 H15 Z"/>
<circle cx="34" cy="886.5" r="3.4"/>
<path d="M40 883 H52.5 L45 900 H36.5 Z"/>
<text x="61" y="900" font-size="25" font-weight="bold" textLength="152" lengthAdjust="spacingAndGlyphs">TradingView</text>
</g>
</svg>
</body></html>
